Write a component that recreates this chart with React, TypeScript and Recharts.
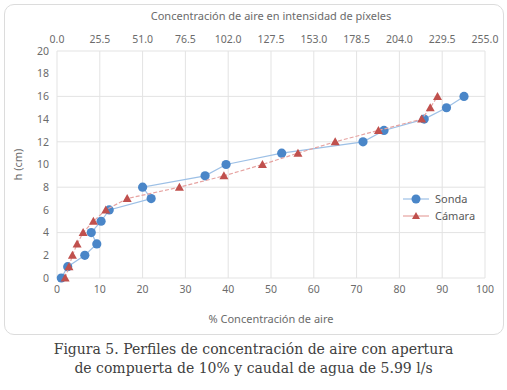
import { ScatterChart, Scatter, XAxis, YAxis, CartesianGrid } from 'recharts'

// Sonda profile: h (cm) vs % air concentration
const sondaH = [0, 1, 2, 3, 4, 5, 6, 7, 8, 9, 10, 11, 12, 13, 14, 15, 16]
const sondaC = [1.0, 2.5, 6.5, 9.3, 8.0, 10.3, 12.2, 22.0, 20.0, 34.6, 39.5, 52.5, 71.5, 76.4, 85.8, 91.0, 95.1]

// Cámara profile
const camaraH = [0, 1, 2, 3, 4, 5, 6, 7, 8, 9, 10, 11, 12, 13, 14, 15, 16]
const camaraC = [1.9, 2.8, 3.6, 4.7, 6.1, 8.5, 11.4, 16.4, 28.6, 39.0, 48.0, 56.3, 65.0, 75.1, 85.2, 87.2, 88.9]

const xTicks = [0, 10, 20, 30, 40, 50, 60, 70, 80, 90, 100]
const topTicks = [0, 25.5, 51, 76.5, 102, 127.5, 153, 178.5, 204, 229.5, 255]
const yTicks = [0, 2, 4, 6, 8, 10, 12, 14, 16, 18, 20]

const sonda = sondaH.map((h, i) => ({ x: sondaC[i], y: h }))
const camara = camaraH.map((h, i) => ({ x: camaraC[i], y: h }))
// same Sonda profile expressed in pixel intensity (0-255), only used to drive the top axis
const sondaPx = sonda.map(d => ({ x: d.x * 2.55, y: d.y }))

const BLUE = '#4a86c8'
const BLUE_LINE = '#9dc0e6'
const RED = '#c0504d'
const RED_LINE = '#e6a3a1'
const FONT = "'Noto Sans', sans-serif"
const TICK = { fontSize: 10.5, fill: '#6b6b6b', fontFamily: FONT }

// smaller Excel-like triangle marker, centred on the point the scale gives
const Tri = (p: any) => (
  <path d={`M${p.cx},${p.cy - 4.5} L${p.cx + 4.5},${p.cy + 3.5} L${p.cx - 4.5},${p.cy + 3.5} Z`} fill={RED} />
)
const Dot = (p: any) => <circle cx={p.cx} cy={p.cy} r={4.6} fill={BLUE} />

function LegendBox() {
  return (
    <svg width={80} height={36}>
      <line x1={2} x2={28} y1={9} y2={9} stroke={BLUE_LINE} strokeWidth={1.2} />
      <circle cx={15} cy={9} r={4.5} fill={BLUE} />
      <text x={34} y={13} fontSize={11} fill="#595959" fontFamily={FONT}>Sonda</text>
      <line x1={2} x2={28} y1={26} y2={26} stroke={RED_LINE} strokeWidth={1.2} />
      <path d="M15,22 L19,29 L11,29 Z" fill={RED} />
      <text x={34} y={30} fontSize={11} fill="#595959" fontFamily={FONT}>Cámara</text>
    </svg>
  )
}

export default function App() {
  return (
    <div style={{ position: 'absolute', left: 0, top: 0, width: 507, height: 390, background: '#fff' }}>
      <div
        style={{
          position: 'absolute',
          left: 4,
          top: 4,
          width: 498,
          height: 329,
          border: '1px solid #dcdcdc',
          borderRadius: 10,
        }}
      />
      <div style={{ position: 'absolute', left: 0, top: 0 }}>
        <ScatterChart width={507} height={335} margin={{ top: 0, right: 22, bottom: 0, left: 0 }}>
          <CartesianGrid stroke="#e3e3e3" strokeWidth={1} xAxisId="bottom" />
          <XAxis
            xAxisId="bottom"
            type="number"
            dataKey="x"
            domain={[0, 100]}
            ticks={xTicks}
            axisLine={false}
            tickLine={false}
            tick={TICK}
            height={57}
            label={{ value: '% Concentración de aire', position: 'insideBottom', offset: 12, style: { ...TICK, fontSize: 11 } }}
          />
          <XAxis
            xAxisId="top"
            orientation="top"
            type="number"
            dataKey="x"
            domain={[0, 255]}
            ticks={topTicks}
            allowDataOverflow
            tickFormatter={(v: number) => v.toFixed(1)}
            axisLine={false}
            tickLine={false}
            tick={TICK}
            height={51}
            label={{ value: 'Concentración de aire en intensidad de píxeles', position: 'insideTop', offset: 12, style: { ...TICK, fontSize: 11 } }}
          />
          <YAxis
            type="number"
            dataKey="y"
            domain={[0, 20]}
            ticks={yTicks}
            axisLine={false}
            tickLine={false}
            tick={TICK}
            width={57}
            label={{ value: 'h (cm)', angle: -90, position: 'insideLeft', offset: 18, style: { ...TICK, fontSize: 11, textAnchor: 'middle' } }}
          />
          <Scatter
            name="px"
            xAxisId="top"
            data={sondaPx}
            fill="none"
            shape={() => <g />}
            isAnimationActive={false}
          />
          <Scatter
            name="Sonda"
            xAxisId="bottom"
            data={sonda}
            fill={BLUE}
            shape={Dot}
            line={{ stroke: BLUE_LINE, strokeWidth: 1.2 }}
            lineType="joint"
            isAnimationActive={false}
          />
          <Scatter
            name="Cámara"
            xAxisId="bottom"
            data={camara}
            fill={RED}
            shape={Tri}
            line={{ stroke: RED_LINE, strokeWidth: 1.2, strokeDasharray: '4 2' }}
            lineType="joint"
            isAnimationActive={false}
          />
        </ScatterChart>
      </div>
      <div style={{ position: 'absolute', left: 401, top: 190 }}>
        <LegendBox />
      </div>
      <div
        style={{
          position: 'absolute',
          left: 0,
          top: 340,
          width: 507,
          textAlign: 'center',
          fontFamily: "'DejaVu Serif', serif",
          fontSize: 14,
          lineHeight: '19px',
          color: '#404040',
        }}
      >
        Figura 5. Perfiles de concentración de aire con apertura
        <br />
        de compuerta de 10% y caudal de agua de 5.99 l/s
      </div>
    </div>
  )
}
